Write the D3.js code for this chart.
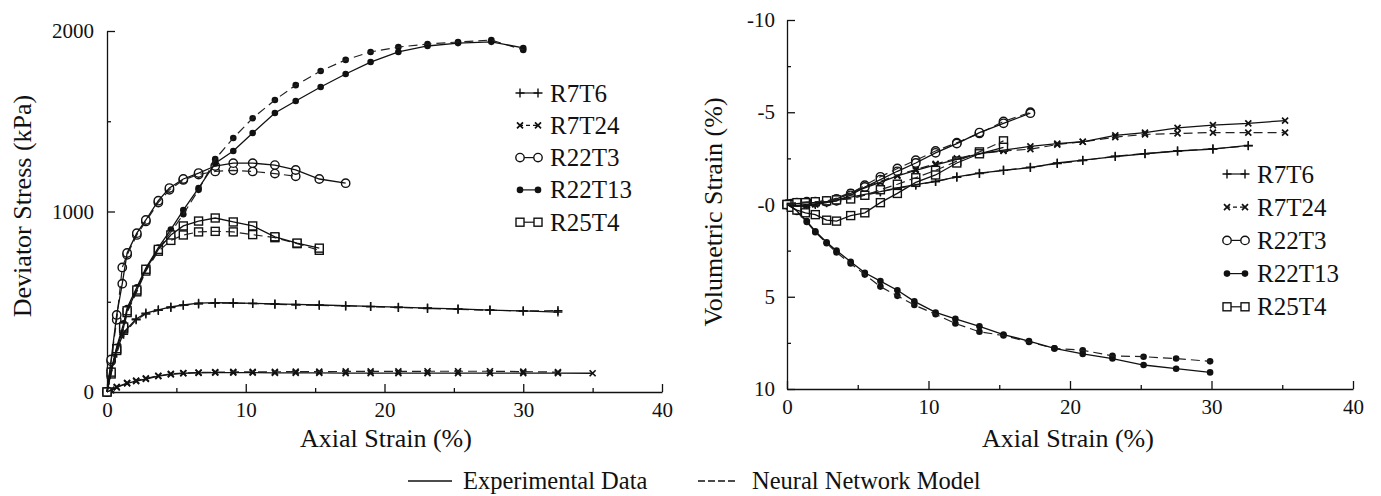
<!DOCTYPE html>
<html lang="en">
<head>
<meta charset="UTF-8">
<title>Deviator stress and volumetric strain vs axial strain</title>
<script src="https://cdnjs.cloudflare.com/ajax/libs/d3/7.8.5/d3.min.js"></script>
<style>
  body { margin: 0; background: #fff; }
  svg text { font-family: "Liberation Serif", "Times New Roman", serif; fill: #111; }
  .axis path, .axis line { stroke: #111; stroke-width: 1.3; }
  .axis text { font-family: "Liberation Serif", serif; font-size: 21px; fill: #111; }
</style>
</head>
<body>
<svg id="chart" width="1381" height="496"></svg>
<script>
// series names and marker kinds
const seriesNames = ["R7T6", "R7T24", "R22T3", "R22T13", "R25T4"];
const markerKinds = ["plus", "cross", "circle", "dot", "square"];

// left panel: deviator stress (kPa) vs axial strain (%) - [strain, stress]
const stressExpR7T6 = [[0,0],[0.3,120],[0.7,230],[1.2,330],[2.1,405],[2.8,437],[3.7,455],[4.6,471],[5.5,482],[6.6,492],[7.8,495],[9.1,494],[10.5,491],[12.1,488],[13.6,485],[15.3,482],[17.2,478],[19.0,474],[21.0,470],[23.1,465],[25.3,460],[27.6,454],[30.0,449],[32.5,443]];
const stressNnR7T6 = [[0,0],[0.3,110],[0.7,215],[1.2,320],[2.1,400],[2.8,432],[3.7,452],[4.6,468],[5.5,480],[6.6,488],[7.8,492],[9.1,492],[10.5,490],[12.1,486],[13.6,483],[15.3,480],[17.2,477],[19.0,473],[21.0,468],[23.1,463],[25.3,458],[27.6,453],[30.0,449],[32.5,451]];
const stressExpR7T24 = [[0,0],[0.3,10],[0.7,25],[1.45,48],[2.1,60],[2.8,72],[3.7,88],[4.6,98],[5.5,104],[6.6,106],[7.8,107],[9.1,107],[10.5,107],[12.1,106],[13.6,106],[15.3,106],[17.2,105],[19.0,105],[21.0,105],[23.1,105],[25.3,105],[27.6,105],[30.0,105],[32.5,105],[35.0,104]];
const stressNnR7T24 = [[0,0],[0.3,12],[0.7,28],[1.45,50],[2.1,63],[2.8,75],[3.7,90],[4.6,100],[5.5,105],[6.6,108],[7.8,110],[9.1,111],[10.5,112],[12.1,112],[13.6,113],[15.3,113],[17.2,114],[19.0,114],[21.0,114],[23.1,115],[25.3,115],[27.6,115],[30.0,113],[32.5,110]];
const stressExpR22T3 = [[0,0],[0.3,180],[0.7,427],[1.1,600],[1.45,770],[2.15,880],[2.8,953],[3.7,1060],[4.5,1130],[5.5,1180],[6.6,1213],[7.8,1252],[9.1,1268],[10.5,1268],[12.1,1257],[13.6,1230],[15.3,1180],[17.2,1157]];
const stressNnR22T3 = [[0,0],[0.3,170],[0.7,400],[1.1,690],[1.45,760],[2.15,870],[2.8,945],[3.7,1050],[4.5,1120],[5.5,1175],[6.6,1205],[7.8,1222],[9.1,1228],[10.5,1222],[12.1,1210],[13.6,1195]];
const stressExpR22T13 = [[0,0],[0.3,120],[0.7,250],[1.2,380],[1.45,465],[2.15,580],[2.8,687],[3.7,800],[4.6,900],[5.5,1008],[6.6,1130],[7.8,1268],[9.1,1335],[10.5,1435],[12.1,1546],[13.6,1612],[15.4,1690],[17.2,1762],[19.0,1828],[21.0,1884],[23.1,1917],[25.3,1933],[27.7,1940],[30.0,1906]];
const stressNnR22T13 = [[0,0],[0.3,110],[0.7,240],[1.2,370],[1.45,455],[2.15,570],[2.8,675],[3.7,790],[4.6,885],[5.5,985],[6.6,1120],[7.8,1290],[9.1,1407],[10.5,1517],[12.1,1618],[13.6,1700],[15.4,1778],[17.2,1840],[19.0,1884],[21.0,1911],[23.1,1928],[25.3,1939],[27.7,1950],[30.0,1895]];
const stressExpR25T4 = [[0,0],[0.3,110],[0.7,240],[1.2,360],[1.45,450],[2.15,565],[2.8,680],[3.7,790],[4.6,870],[5.5,920],[6.6,947],[7.8,964],[9.1,942],[10.5,920],[12.1,860],[13.7,825],[15.3,797]];
const stressNnR25T4 = [[0,0],[0.3,100],[0.7,230],[1.2,350],[1.45,440],[2.15,555],[2.8,670],[3.7,780],[4.6,840],[5.5,870],[6.6,887],[7.8,890],[9.1,887],[10.5,872],[12.1,855],[13.7,822],[15.3,785]];

// right panel: volumetric strain (%) vs axial strain (%) - [strain, volStrain]
const volExpR7T6 = [[0,0],[0.3,0.05],[0.7,0.05],[1.4,0],[2.0,-0.05],[2.8,-0.15],[3.5,-0.25],[4.5,-0.4],[5.5,-0.55],[6.6,-0.7],[7.8,-0.9],[9.1,-1.08],[10.5,-1.25],[12.0,-1.5],[13.6,-1.7],[15.3,-1.85],[17.2,-2.0],[19.1,-2.25],[20.9,-2.4],[23.2,-2.6],[25.3,-2.75],[27.6,-2.9],[30.1,-3.0],[32.6,-3.2]];
const volNnR7T6 = [[0,0],[0.3,0.05],[0.7,0.1],[1.4,0.05],[2.0,0],[2.8,-0.1],[3.5,-0.2],[4.5,-0.35],[5.5,-0.5],[6.6,-0.68],[7.8,-0.88],[9.1,-1.05],[10.5,-1.25],[12.0,-1.48],[13.6,-1.68],[15.3,-1.85],[17.2,-2.02],[19.1,-2.22],[20.9,-2.38],[23.2,-2.62],[25.3,-2.76],[27.6,-2.9],[30.1,-3.02],[32.6,-3.18]];
const volExpR7T24 = [[0,0],[0.3,0],[0.7,0.1],[1.4,0.05],[2.0,0],[2.8,-0.1],[3.5,-0.3],[4.5,-0.6],[5.5,-0.9],[6.6,-1.2],[7.8,-1.55],[9.1,-1.85],[10.5,-2.15],[12.0,-2.45],[13.6,-2.75],[15.3,-2.95],[17.2,-3.15],[19.1,-3.3],[20.9,-3.4],[23.2,-3.75],[25.3,-3.9],[27.6,-4.15],[30.1,-4.3],[32.6,-4.4],[35.2,-4.55]];
const volNnR7T24 = [[0,0],[0.3,0.05],[0.7,0.1],[1.4,0.05],[2.0,-0.05],[2.8,-0.15],[3.5,-0.35],[4.5,-0.65],[5.5,-0.95],[6.6,-1.25],[7.8,-1.6],[9.1,-1.9],[10.5,-2.2],[12.0,-2.5],[13.6,-2.75],[15.3,-2.9],[17.2,-3.0],[19.1,-3.25],[20.9,-3.4],[23.2,-3.65],[25.3,-3.8],[27.6,-3.85],[30.1,-3.9],[32.6,-3.9],[35.2,-3.9]];
const volExpR22T3 = [[0,0],[0.3,0],[0.7,-0.05],[1.4,-0.1],[2.0,-0.1],[2.8,-0.15],[3.5,-0.2],[4.5,-0.5],[5.5,-0.95],[6.6,-1.35],[7.8,-1.8],[9.1,-2.25],[10.5,-2.8],[12.0,-3.3],[13.6,-3.9],[15.3,-4.4],[17.2,-4.95]];
const volNnR22T3 = [[0,0],[0.3,-0.05],[0.7,-0.1],[1.4,-0.15],[2.0,-0.15],[2.8,-0.2],[3.5,-0.3],[4.5,-0.6],[5.5,-1.05],[6.6,-1.5],[7.8,-1.95],[9.1,-2.4],[10.5,-2.9],[12.0,-3.35],[13.6,-3.85],[15.3,-4.5],[17.2,-5.0]];
const volExpR22T13 = [[0,0],[0.3,0.1],[0.7,0.35],[1.4,0.9],[2.0,1.45],[2.8,2.05],[3.5,2.5],[4.5,3.1],[5.5,3.7],[6.6,4.15],[7.8,4.65],[9.0,5.25],[10.5,5.85],[11.9,6.2],[13.6,6.6],[15.3,7.05],[17.1,7.4],[18.9,7.8],[20.9,8.1],[23.0,8.35],[25.2,8.7],[27.5,8.9],[29.9,9.1]];
const volNnR22T13 = [[0,0],[0.3,0.1],[0.7,0.4],[1.4,0.95],[2.0,1.5],[2.8,2.1],[3.5,2.6],[4.5,3.2],[5.5,3.8],[6.6,4.45],[7.8,4.95],[9.0,5.45],[10.5,5.95],[11.9,6.45],[13.6,6.9],[15.3,7.1],[17.1,7.45],[18.9,7.8],[20.9,7.9],[23.0,8.2],[25.2,8.25],[27.5,8.35],[29.9,8.5]];
const volExpR25T4 = [[0,0],[0.3,0.15],[0.7,0.3],[1.3,0.45],[2.0,0.55],[2.8,0.85],[3.5,0.9],[4.5,0.6],[5.5,0.45],[6.6,-0.1],[7.8,-0.6],[9.1,-1.2],[10.5,-1.6],[12.0,-2.25],[13.6,-2.75],[15.3,-3.1]];
const volNnR25T4 = [[0,0],[0.3,0],[0.7,-0.1],[1.3,-0.1],[2.0,-0.15],[2.8,-0.2],[3.5,-0.25],[4.5,-0.3],[5.5,-0.5],[6.6,-0.8],[7.8,-1.1],[9.1,-1.45],[10.5,-1.85],[12.0,-2.35],[13.6,-2.85],[15.3,-3.45]];

// tick values
const strainTicks = [0, 10, 20, 30, 40];
const strainMinor = [5, 15, 25, 35];
const stressTicks = [0, 1000, 2000];
const stressMinor = [500, 1500];
const volTicks = [-10, -5, 0, 5, 10];
const volTickLabels = ["-10", "-5", "-0", "5", "10"];
const volMinor = [-7.5, -2.5, 2.5, 7.5];

const stressExp = [stressExpR7T6, stressExpR7T24, stressExpR22T3, stressExpR22T13, stressExpR25T4];
const stressNn = [stressNnR7T6, stressNnR7T24, stressNnR22T3, stressNnR22T13, stressNnR25T4];
const volExp = [volExpR7T6, volExpR7T24, volExpR22T3, volExpR22T13, volExpR25T4];
const volNn = [volNnR7T6, volNnR7T24, volNnR22T3, volNnR22T13, volNnR25T4];

const svg = d3.select("#chart");
svg.append("rect").attr("width", 1381).attr("height", 496).attr("fill", "#fff");

function drawMarker(g, kind, cx, cy) {
    const s = "#111";
    if (kind === "plus") {
        g.append("path").attr("d", `M${cx-4.5},${cy}H${cx+4.5}M${cx},${cy-4.5}V${cy+4.5}`)
            .attr("stroke", s).attr("stroke-width", 1.4).attr("fill", "none");
    } else if (kind === "cross") {
        g.append("path").attr("d", `M${cx-3},${cy-3}L${cx+3},${cy+3}M${cx-3},${cy+3}L${cx+3},${cy-3}`)
            .attr("stroke", s).attr("stroke-width", 1.7).attr("fill", "none");
    } else if (kind === "circle") {
        g.append("circle").attr("cx", cx).attr("cy", cy).attr("r", 4.2)
            .attr("stroke", s).attr("stroke-width", 1.4).attr("fill", "#fff");
    } else if (kind === "dot") {
        g.append("circle").attr("cx", cx).attr("cy", cy).attr("r", 3.3).attr("fill", s);
    } else if (kind === "square") {
        g.append("rect").attr("x", cx-4).attr("y", cy-4).attr("width", 8).attr("height", 8)
            .attr("stroke", s).attr("stroke-width", 1.4).attr("fill", "#fff");
    }
}

function drawPanel(opt) {
    const x = d3.scaleLinear().domain([0, 40]).range([opt.x0, opt.x1]);
    const y = d3.scaleLinear().domain(opt.yDomain).range([opt.yBottom, opt.yTop]);
    const g = svg.append("g");

    // x axis
    g.append("g").attr("class", "axis").attr("transform", `translate(0,${opt.yBottom})`)
        .call(d3.axisBottom(x).tickValues(strainTicks).tickSizeInner(-8).tickSizeOuter(0).tickPadding(10));
    g.append("g").attr("class", "axis").attr("transform", `translate(0,${opt.yBottom})`)
        .call(d3.axisBottom(x).tickValues(strainMinor).tickSize(-4).tickFormat(""))
        .call(a => a.select(".domain").remove());

    // y axis
    g.append("g").attr("class", "axis").attr("transform", `translate(${opt.x0},0)`)
        .call(d3.axisLeft(y).tickValues(opt.yTicks).tickSizeInner(-8).tickSizeOuter(0).tickPadding(opt.yPad)
            .tickFormat(opt.yFormat));
    g.append("g").attr("class", "axis").attr("transform", `translate(${opt.x0},0)`)
        .call(d3.axisLeft(y).tickValues(opt.yMinor).tickSize(-4).tickFormat(""))
        .call(a => a.select(".domain").remove());

    // titles
    g.append("text").attr("x", opt.xTitleX).attr("y", 447)
        .attr("text-anchor", "middle").attr("font-size", 26).text("Axial Strain (%)");
    g.append("text").attr("transform", `translate(${opt.yTitleX},${opt.yTitleY}) rotate(-90)`)
        .attr("text-anchor", "middle").attr("font-size", 26).text(opt.yTitle);

    const line = d3.line().x(d => x(d[0])).y(d => y(d[1]));
    const marks = g.append("g");
    seriesNames.forEach((name, i) => {
        g.append("path").datum(opt.nn[i]).attr("d", line).attr("fill", "none")
            .attr("stroke", "#222").attr("stroke-width", 1.2).attr("stroke-dasharray", "9,5");
        g.append("path").datum(opt.exp[i]).attr("d", line).attr("fill", "none")
            .attr("stroke", "#111").attr("stroke-width", 1.3);
    });
    seriesNames.forEach((name, i) => {
        opt.nn[i].forEach(d => drawMarker(marks, markerKinds[i], x(d[0]), y(d[1])));
        opt.exp[i].forEach(d => drawMarker(marks, markerKinds[i], x(d[0]), y(d[1])));
    });

    // series legend
    const lg = g.append("g");
    seriesNames.forEach((name, i) => {
        const ly = opt.legendY + i * opt.legendStep;
        const lx = opt.legendX;
        lg.append("line").attr("x1", lx).attr("x2", lx + 20).attr("y1", ly).attr("y2", ly)
            .attr("stroke", "#111").attr("stroke-width", 1.2)
            .attr("stroke-dasharray", i === 1 ? "4,3" : null);
        drawMarker(lg, markerKinds[i], lx + 1, ly);
        drawMarker(lg, markerKinds[i], lx + 19, ly);
        lg.append("text").attr("x", lx + 31).attr("y", ly + 8.5).attr("font-size", 25).text(name);
    });
}

drawPanel({
    x0: 107, x1: 662, yTop: 31, yBottom: 392,
    yDomain: [0, 2000], yTicks: stressTicks, yMinor: stressMinor, yFormat: d3.format("d"), yPad: 13,
    yTitle: "Deviator Stress (kPa)", yTitleX: 31, yTitleY: 206, xTitleX: 386,
    exp: stressExp, nn: stressNn,
    legendX: 519, legendY: 93, legendStep: 32.3
});

drawPanel({
    x0: 787, x1: 1353, yTop: 20, yBottom: 389,
    yDomain: [10, -10], yTicks: volTicks, yMinor: volMinor, yPad: 12,
    yFormat: d => volTickLabels[volTicks.indexOf(d)],
    yTitle: "Volumetric Strain (%)", yTitleX: 722, yTitleY: 212, xTitleX: 1068,
    exp: volExp, nn: volNn,
    legendX: 1226, legendY: 174, legendStep: 33.2
});

// bottom legend
const bl = svg.append("g");
bl.append("line").attr("x1", 408).attr("x2", 452).attr("y1", 481).attr("y2", 481)
    .attr("stroke", "#111").attr("stroke-width", 1.3);
bl.append("text").attr("x", 463).attr("y", 489).attr("font-size", 24.5).text("Experimental Data");
bl.append("line").attr("x1", 698).attr("x2", 738).attr("y1", 481).attr("y2", 481)
    .attr("stroke", "#111").attr("stroke-width", 1.3).attr("stroke-dasharray", "7,3");
bl.append("text").attr("x", 752).attr("y", 489).attr("font-size", 24.5).text("Neural Network Model");
</script>
</body>
</html>
